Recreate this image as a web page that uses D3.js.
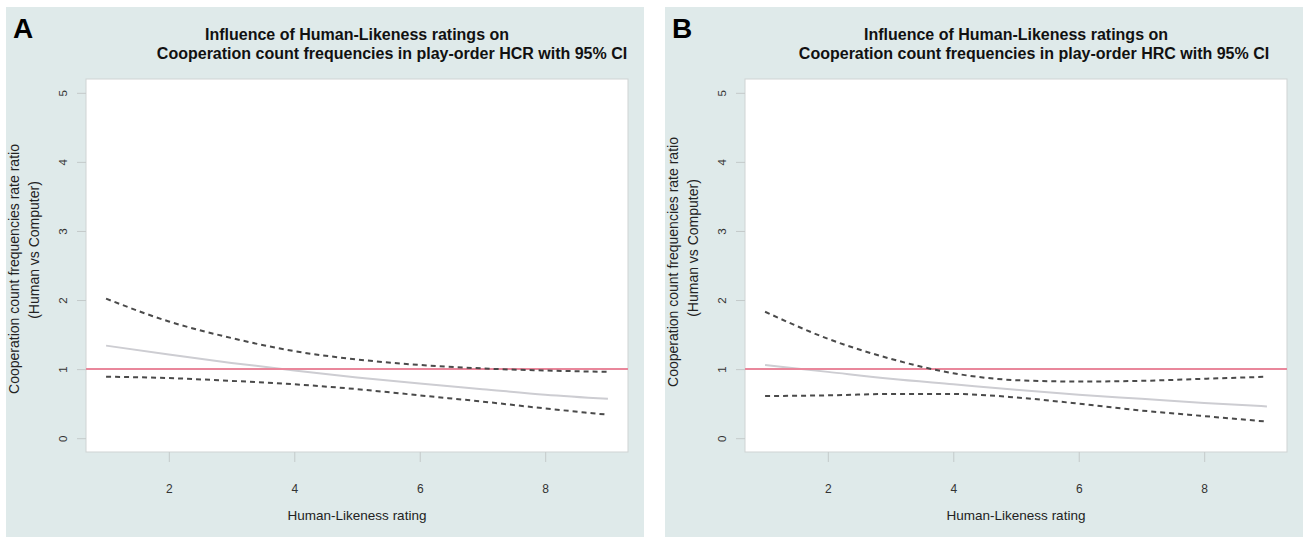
<!DOCTYPE html>
<html>
<head>
<meta charset="utf-8">
<script src="https://cdn.jsdelivr.net/npm/d3@7"></script>
<style>
  html, body { margin: 0; padding: 0; background: #ffffff; }
  svg { display: block; font-family: "Liberation Sans", Arial, Helvetica, sans-serif; }
</style>
</head>
<body>
<svg id="chart" width="1303" height="537"></svg>
<script>
// Human-Likeness rating (x) at which the model curves are evaluated
const ratings = [1, 2, 3, 4, 5, 6, 7, 8, 9];

// Play-order HCR: fitted rate ratio and 95% CI bounds
const fitHCR   = [1.34, 1.21, 1.09, 0.98, 0.88, 0.79, 0.71, 0.63, 0.57];
const upperHCR = [2.02, 1.69, 1.45, 1.26, 1.14, 1.06, 1.01, 0.98, 0.96];
const lowerHCR = [0.89, 0.87, 0.83, 0.78, 0.71, 0.62, 0.53, 0.43, 0.34];

// Play-order HRC: fitted rate ratio and 95% CI bounds
const fitHRC   = [1.06, 0.96, 0.86, 0.78, 0.70, 0.63, 0.57, 0.51, 0.46];
const upperHRC = [1.83, 1.44, 1.15, 0.94, 0.84, 0.82, 0.83, 0.86, 0.89];
const lowerHRC = [0.61, 0.62, 0.64, 0.64, 0.59, 0.50, 0.40, 0.32, 0.24];

// Reference level (rate ratio of 1 = no difference)
const referenceRatio = 1;

// Axis ticks
const xTicks = [2, 4, 6, 8];
const yTicks = [0, 1, 2, 3, 4, 5];
const xDomain = [1, 9];
const yDomain = [0, 5];

// Text
const panelLetters = ["A", "B"];
const titleLine1 = "Influence of Human-Likeness ratings on";
const titleLine2 = ["Cooperation count frequencies in play-order HCR with 95% CI",
                    "Cooperation count frequencies in play-order HRC with 95% CI"];
const xTitle = "Human-Likeness rating";
const yTitle1 = "Cooperation count frequencies rate ratio";
const yTitle2 = "(Human vs Computer)";

const svg = d3.select("#chart");

const panels = [
  { letter: panelLetters[0], title2: titleLine2[0], fit: fitHCR, upper: upperHCR, lower: lowerHCR,
    bgX: 6, plotX: 86, title2Shift: 35, yTitleCenter1: 269, yTitleCenter2: 250 },
  { letter: panelLetters[1], title2: titleLine2[1], fit: fitHRC, upper: upperHRC, lower: lowerHRC,
    bgX: 665, plotX: 745, title2Shift: 18, yTitleCenter1: 262, yTitleCenter2: 248 }
];

const bgY = 7, bgW = 638, bgH = 530;
const plotTop = 79, plotBottom = 452, plotW = 542;

function padDomain([a, b]) {
  const p = (b - a) * 0.04;   // R-style 4% axis extension
  return [a - p, b + p];
}

panels.forEach(p => {
  const g = svg.append("g");

  // panel background
  g.append("rect")
    .attr("x", p.bgX).attr("y", bgY).attr("width", bgW).attr("height", bgH)
    .attr("fill", "#dfeaea");

  const x = d3.scaleLinear().domain(padDomain(xDomain)).range([p.plotX, p.plotX + plotW]);
  const y = d3.scaleLinear().domain(padDomain(yDomain)).range([plotBottom, plotTop]);

  // plot region
  g.append("rect")
    .attr("x", p.plotX).attr("y", plotTop)
    .attr("width", plotW).attr("height", plotBottom - plotTop)
    .attr("fill", "#ffffff").attr("stroke", "#cfd3d3").attr("stroke-width", 1);

  // panel letter
  g.append("text")
    .attr("x", p.bgX + 7).attr("y", 38)
    .attr("font-size", 28).attr("font-weight", "bold").attr("fill", "#000")
    .text(p.letter);

  // two-line title
  const cx = p.plotX + plotW / 2;
  g.append("text")
    .attr("x", cx).attr("y", 40).attr("text-anchor", "middle")
    .attr("font-size", 16).attr("font-weight", "bold").attr("fill", "#111")
    .text(titleLine1);
  g.append("text")
    .attr("x", cx + p.title2Shift).attr("y", 59).attr("text-anchor", "middle")
    .attr("font-size", 16).attr("font-weight", "bold").attr("fill", "#111")
    .text(p.title2);

  // x axis
  const xAxis = g.append("g")
    .attr("transform", `translate(0,${plotBottom})`)
    .call(d3.axisBottom(x).tickValues(xTicks).tickFormat(d3.format("d"))
      .tickSize(10).tickSizeOuter(0).tickPadding(22));
  xAxis.select(".domain").remove();
  xAxis.selectAll(".tick line").attr("stroke", "#c4caca").attr("stroke-width", 1);
  xAxis.selectAll(".tick text")
    .attr("font-size", 12).attr("fill", "#333")
    .attr("font-family", "Liberation Sans, Arial, sans-serif");

  // y axis with labels parallel to the axis
  const yAxis = g.append("g")
    .attr("transform", `translate(${p.plotX},0)`)
    .call(d3.axisLeft(y).tickValues(yTicks).tickFormat(d3.format("d"))
      .tickSize(9).tickSizeOuter(0));
  yAxis.select(".domain").remove();
  yAxis.selectAll(".tick line").attr("stroke", "#c4caca").attr("stroke-width", 1);
  yAxis.selectAll(".tick text")
    .attr("x", null).attr("dy", null)
    .attr("text-anchor", "middle")
    .attr("transform", "translate(-19,0) rotate(-90)")
    .attr("font-size", 11.5).attr("fill", "#333")
    .attr("font-family", "Liberation Sans, Arial, sans-serif");

  // axis titles
  g.append("text")
    .attr("x", cx).attr("y", 520).attr("text-anchor", "middle")
    .attr("font-size", 13.5).attr("fill", "#222")
    .text(xTitle);
  g.append("text")
    .attr("transform", `translate(${p.plotX - 67},${p.yTitleCenter1}) rotate(-90)`)
    .attr("text-anchor", "middle").attr("font-size", 14).attr("fill", "#222")
    .text(yTitle1);
  g.append("text")
    .attr("transform", `translate(${p.plotX - 47},${p.yTitleCenter2}) rotate(-90)`)
    .attr("text-anchor", "middle").attr("font-size", 14).attr("fill", "#222")
    .text(yTitle2);

  const clipId = "clip-" + p.letter;
  g.append("clipPath").attr("id", clipId)
    .append("rect").attr("x", p.plotX).attr("y", plotTop)
    .attr("width", plotW).attr("height", plotBottom - plotTop);

  const plot = g.append("g").attr("clip-path", `url(#${clipId})`);

  const line = d3.line()
    .x((d, i) => x(ratings[i]))
    .y(d => y(d))
    .curve(d3.curveMonotoneX);

  // fitted rate ratio
  plot.append("path").datum(p.fit)
    .attr("d", line).attr("fill", "none")
    .attr("stroke", "#cdcdd2").attr("stroke-width", 2);

  // reference line at ratio 1
  plot.append("line")
    .attr("x1", p.plotX).attr("x2", p.plotX + plotW)
    .attr("y1", y(referenceRatio)).attr("y2", y(referenceRatio))
    .attr("stroke", "#e9879b").attr("stroke-width", 2);

  // confidence bounds
  [p.upper, p.lower].forEach(b => {
    plot.append("path").datum(b)
      .attr("d", line).attr("fill", "none")
      .attr("stroke", "#4a4a4a").attr("stroke-width", 2)
      .attr("stroke-dasharray", "5,4");
  });
});
</script>
</body>
</html>
